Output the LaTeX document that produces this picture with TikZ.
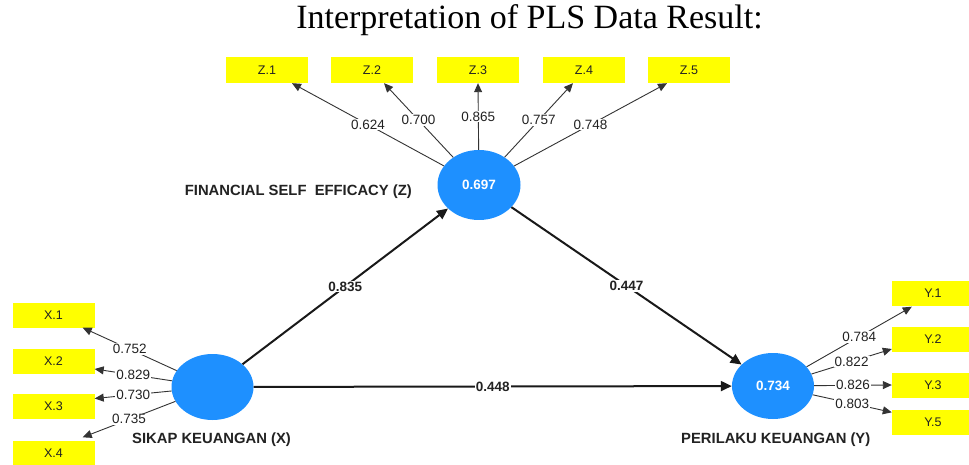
\documentclass[tikz,border=0pt]{standalone}
\usepackage{fontspec}
\newfontfamily\arialf{Liberation Sans}
\newfontfamily\titlef{Liberation Serif}
\usetikzlibrary{arrows.meta,shapes.geometric}
\definecolor{lvblue}{HTML}{1E90FF}
\definecolor{mvyellow}{HTML}{FFFF00}
\definecolor{txtgray}{HTML}{222222}
\definecolor{lngray}{HTML}{333333}
\tikzset{
  latent/.style={ellipse, fill=lvblue, minimum width=82pt, minimum height=66pt, inner sep=0pt, text=white, font=\arialf\bfseries\fontsize{13.5}{16}\selectfont},
  mv/.style={rectangle, fill=mvyellow, minimum width=82pt, minimum height=25pt, inner sep=0pt, text=txtgray, font=\arialf\fontsize{12.5}{15}\selectfont},
  ld/.style={draw=lngray, line width=0.9pt, -{Triangle[length=9pt,width=8pt]}},
  ldlab/.style={fill=white, inner sep=1pt, text=txtgray, font=\arialf\fontsize{13.5}{16}\selectfont},
  pth/.style={draw=black!90, line width=2pt, -{Triangle[length=11pt,width=10pt]}},
  plab/.style={fill=white, inner sep=1pt, text=txtgray, font=\arialf\bfseries\fontsize{13.5}{16}\selectfont},
  cname/.style={inner sep=0pt, text=txtgray, font=\arialf\bfseries\fontsize{14.8}{17}\selectfont}
}
\begin{document}
\begin{tikzpicture}[x=1pt,y=-1pt]
\useasboundingbox (0,0) rectangle (969,465);
\fill[white] (0,0) rectangle (969,465);
% title
\node[anchor=base, inner sep=0pt, font=\titlef\fontsize{34}{40}\selectfont] (title) at (529.5,29) {Interpretation of PLS Data Result:};
% latent variables
\node[latent, minimum width=83pt, minimum height=70pt] (Z) at (479,185) {0.697};
\node[latent] (X) at (212.5,387) {};
\node[latent] (Y) at (773,386) {0.734};
% indicators Z
\node[mv, minimum height=26pt] (z1) at (267,70) {Z.1};
\node[mv, minimum height=26pt] (z2) at (372,70) {Z.2};
\node[mv, minimum height=26pt] (z3) at (478,70) {Z.3};
\node[mv, minimum height=26pt] (z4) at (584,70) {Z.4};
\node[mv, minimum height=26pt] (z5) at (689,70) {Z.5};
% indicators X
\node[mv] (x1) at (53.5,315) {X.1};
\node[mv] (x2) at (53.5,361) {X.2};
\node[mv] (x3) at (53.5,406.5) {X.3};
\node[mv] (x4) at (53.5,453) {X.4};
% indicators Y
\node[mv] (y1) at (933,293) {Y.1};
\node[mv] (y2) at (933,339) {Y.2};
\node[mv] (y3) at (933,385) {Y.3};
\node[mv] (y5) at (933,422) {Y.5};
% loadings Z
\draw[ld] (Z) -- node[ldlab]{0.624} ([xshift=25pt]z1.south);
\draw[ld] (Z) -- node[ldlab]{0.700} ([xshift=12pt]z2.south);
\draw[ld] (Z) -- node[ldlab]{0.865} (z3.south);
\draw[ld] (Z) -- node[ldlab]{0.757} ([xshift=-11pt]z4.south);
\draw[ld] (Z) -- node[ldlab]{0.748} ([xshift=-22pt]z5.south);
% loadings X
\draw[ld] (X) -- node[ldlab]{0.752} ([xshift=-12pt]x1.south east);
\draw[ld] (X) -- node[ldlab]{0.829} ([yshift=-8pt]x2.east);
\draw[ld] (X) -- node[ldlab]{0.730} ([yshift=8pt]x3.east);
\draw[ld] (X) -- node[ldlab]{0.735} ([xshift=-12pt,yshift=3pt]x4.north east);
% loadings Y
\draw[ld] (Y) -- node[ldlab]{0.784} ([xshift=20pt,yshift=-1pt]y1.south west);
\draw[ld] (Y) -- node[ldlab]{0.822} ([yshift=-10pt]y2.west);
\draw[ld] (Y) -- node[ldlab]{0.826} (y3.west);
\draw[ld] (Y) -- node[ldlab]{0.803} ([yshift=-3pt]y5.north west);
% paths
\draw[pth] (X) -- node[plab]{0.835} (Z);
\draw[pth] (Z) -- node[plab]{0.447} (Y);
\draw[pth] (X) -- node[plab]{0.448} (Y);
% construct names
\node[cname, anchor=east] (zname) at (412,192) {FINANCIAL SELF\ \ EFFICACY (Z)};
\node[cname, anchor=west] (xname) at (132,440) {SIKAP KEUANGAN (X)};
\node[cname, anchor=west] (yname) at (681,440) {PERILAKU KEUANGAN (Y)};
\end{tikzpicture}
\end{document}
